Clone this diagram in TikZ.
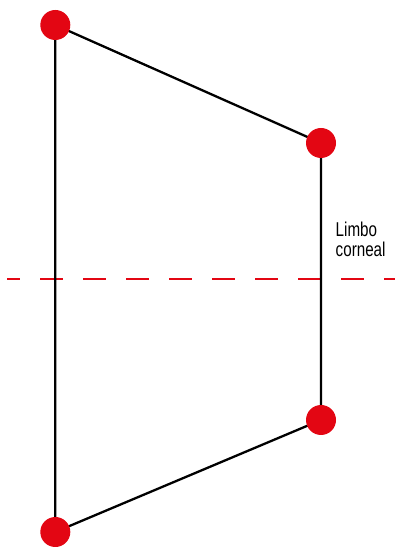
\documentclass[tikz,border=0pt]{standalone}
\usepackage{fontspec}
\newfontfamily\labfont[FakeStretch=0.76]{Liberation Sans}
\definecolor{dotred}{HTML}{E30613}
\begin{document}
\begin{tikzpicture}[x=1pt,y=1pt,
  edge/.style={line width=2.3pt,black},
  dot/.style={circle,fill=dotred,inner sep=0pt,minimum size=30pt},
  axis/.style={line width=2pt,dotred,dash pattern=on 23pt off 20pt,dash phase=10pt}]
\useasboundingbox (0,0) rectangle (395,548);
\coordinate (tl) at (55.3,523);
\coordinate (tr) at (321,405);
\coordinate (br) at (321,128);
\coordinate (bl) at (55.3,16);
\coordinate (dl) at (7,269);
\coordinate (dr) at (398,269);
\draw[axis] (dl) -- (dr);
\draw[edge] (tl) -- (tr) -- (br) -- (bl) -- cycle;
\node[dot] (n1) at (tl) {};
\node[dot] (n2) at (tr) {};
\node[dot] (n3) at (br) {};
\node[dot] (n4) at (bl) {};
\node[anchor=base west,inner sep=0pt,align=left,font=\labfont\fontsize{20}{20}\selectfont] (lab) at (335.5,291) {Limbo\\corneal};
\end{tikzpicture}
\end{document}
